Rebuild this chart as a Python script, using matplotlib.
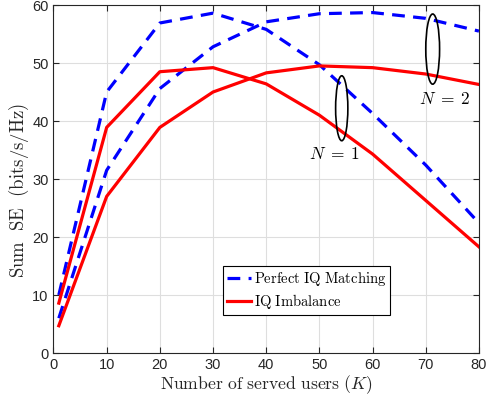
import matplotlib
matplotlib.use("Agg")
import matplotlib.pyplot as plt
from matplotlib.patches import Ellipse
from matplotlib.lines import Line2D

plt.rcParams['mathtext.fontset'] = 'cm'

K = [1, 10, 20, 30, 40, 50, 60, 70, 80]
perfect_N1 = [10.0, 45.0, 56.9, 58.6, 55.8, 49.7, 41.3, 32.4, 22.4]
perfect_N2 = [6.0, 31.5, 45.6, 52.8, 57.1, 58.5, 58.7, 57.7, 55.5]
iqi_N1 = [8.6, 38.9, 48.5, 49.2, 46.4, 41.0, 34.3, 26.3, 18.3]
iqi_N2 = [4.7, 27.0, 38.9, 45.0, 48.3, 49.5, 49.2, 48.1, 46.3]

xticks = [0, 10, 20, 30, 40, 50, 60, 70, 80]
yticks = [0, 10, 20, 30, 40, 50, 60]

fig = plt.figure(figsize=(4.93, 4.01), dpi=100)
ax = fig.add_axes([0.1085, 0.1197, 0.863, 0.8678])

lw = 2.3
dash = (0, (4.0, 2.6))
ax.plot(K, perfect_N1, color='#0000ff', lw=lw, ls=dash)
ax.plot(K, perfect_N2, color='#0000ff', lw=lw, ls=dash)
ax.plot(K, iqi_N1, color='#ff0000', lw=lw)
ax.plot(K, iqi_N2, color='#ff0000', lw=lw)

ax.add_patch(Ellipse((54.2, 42.2), 2.3, 11.2, fill=False, ec='black', lw=1.2, zorder=5))
ax.add_patch(Ellipse((71.3, 52.4), 2.6, 12.1, fill=False, ec='black', lw=1.2, zorder=5))
ax.text(52.8, 34.3, r'$N\;=\;1$', fontsize=12.5, ha='center', va='center')
ax.text(73.5, 43.8, r'$N\;=\;2$', fontsize=12.5, ha='center', va='center')

ax.set_xlim(0, 80)
ax.set_ylim(0, 60)
ax.set_xticks(xticks)
ax.set_yticks(yticks)
ax.grid(True, color='#dedede', lw=0.8)
ax.set_axisbelow(True)
ax.tick_params(direction='in', top=True, right=True, length=4, width=0.8,
               labelsize=10.5, colors='#262626', labelcolor='#262626')
for lab in ax.get_xticklabels() + ax.get_yticklabels():
    lab.set_family('Liberation Sans')
for s in ax.spines.values():
    s.set_color('#262626')
    s.set_linewidth(0.8)

ax.set_xlabel(r'$\mathrm{Number\ of\ served\ users\ }(K)$', fontsize=12.7, color='#262626', labelpad=1)
ax.set_ylabel(r'$\mathrm{Sum\ \ SE\ \ (bits/s/Hz)}$', fontsize=13.5, color='#262626')
ax.yaxis.set_label_coords(-0.053, 0.467)

handles = [Line2D([], [], color='#0000ff', lw=lw, ls=dash),
           Line2D([], [], color='#ff0000', lw=lw)]
leg = ax.legend(handles, [r'$\mathrm{Perfect\ IQ\ Matching}$', r'$\mathrm{IQ\ Imbalance}$'],
                loc='upper left', bbox_to_anchor=((223 - 53.5) / 425.5, (353 - 265.7) / 348),
                fontsize=10.5, frameon=True, fancybox=False, edgecolor='black',
                handlelength=1.6, handletextpad=0.2, borderpad=0.3, labelspacing=0.25,
                borderaxespad=0, framealpha=1)
leg.get_frame().set_linewidth(0.8)

fig.savefig('out.png', dpi=100)
